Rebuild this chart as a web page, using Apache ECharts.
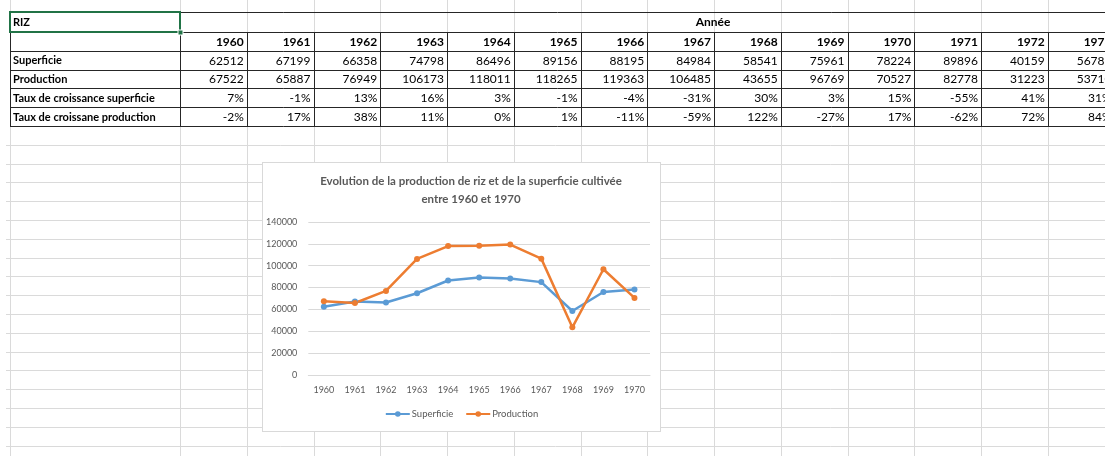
<!DOCTYPE html>
<html>
<head>
<meta charset="utf-8">
<script src="https://cdn.jsdelivr.net/npm/echarts@6/dist/echarts.min.js"></script>
<style>
  html, body { margin: 0; padding: 0; background: #fff; overflow: hidden; }
  #sheet { position: absolute; left: 0; top: 0; width: 1105px; height: 456px; }
  #chart { position: absolute; left: 262px; top: 162px; width: 399px; height: 270px;
           box-sizing: border-box; border: 1px solid #d9d9d9; background: #fff; }
</style>
</head>
<body>
<div id="sheet"></div>
<div id="chart"></div>
<script>
// table data (read from the sheet)
const years = ['1960', '1961', '1962', '1963', '1964', '1965', '1966', '1967', '1968', '1969', '1970', '1971', '1972', '1973']
const superficie = [62512, 67199, 66358, 74798, 86496, 89156, 88195, 84984, 58541, 75961, 78224, 89896, 40159, 56785]
const production = [67522, 65887, 76949, 106173, 118011, 118265, 119363, 106485, 43655, 96769, 70527, 82778, 31223, 53710]
const tauxSup = ['7%', '-1%', '13%', '16%', '3%', '-1%', '-4%', '-31%', '30%', '3%', '15%', '-55%', '41%', '31%']
const tauxProd = ['-2%', '17%', '38%', '11%', '0%', '1%', '-11%', '-59%', '122%', '-27%', '17%', '-62%', '72%', '84%']
const rowLabels = ['Superficie', 'Production', 'Taux de croissance superficie', 'Taux de croissane production']

// chart covers 1960..1970
const chartYears = years.slice(0, 11)
const chartSup = superficie.slice(0, 11)
const chartProd = production.slice(0, 11)

const FONT = "Lato, 'DejaVu Sans Condensed', sans-serif"
const W = 1105
const H = 456

// sheet layout
const x0 = 10
const x1 = 180
const colW = 66.75
const colEdges = [x0]
for (let i = 0; x1 + i * colW < W + colW; i++) colEdges.push(x1 + i * colW)
const rowEdges = [12, 32, 51, 69.5, 88.3, 107, 126]
const tableBottom = 126
const rowH = 18.8

function px (v) { return Math.round(v) + 0.5 }

const els = []
// light grid
colEdges.forEach(x => {
  els.push({ type: 'line', shape: { x1: px(x), y1: 0, x2: px(x), y2: H }, style: { stroke: '#dadada', lineWidth: 1 } })
})
for (let y = tableBottom + rowH; y < H; y += rowH) {
  els.push({ type: 'line', shape: { x1: 6, y1: px(y), x2: W, y2: px(y) }, style: { stroke: '#dadada', lineWidth: 1 } })
}
// table borders
rowEdges.forEach(y => {
  els.push({ type: 'line', shape: { x1: x0, y1: px(y), x2: W, y2: px(y) }, style: { stroke: '#262626', lineWidth: 1 } })
})
colEdges.forEach(x => {
  const top = (x === x0 || x === x1) ? rowEdges[0] : rowEdges[1]
  els.push({ type: 'line', shape: { x1: px(x), y1: px(top), x2: px(x), y2: px(tableBottom) }, style: { stroke: '#262626', lineWidth: 1 } })
})
// selected cell
els.push({ type: 'rect', shape: { x: x0, y: 12, width: x1 - x0, height: 20 }, style: { fill: null, stroke: '#217346', lineWidth: 2 } })
els.push({ type: 'rect', shape: { x: x1 - 2, y: 30, width: 5, height: 5 }, style: { fill: '#217346', stroke: '#fff', lineWidth: 1 } })

function txt (text, x, y, align, bold, size) {
  els.push({
    type: 'text',
    style: {
      text: text, x: x, y: y,
      font: (bold ? 'bold ' : '') + size + 'px ' + FONT,
      fill: '#000',
      align: align, verticalAlign: 'middle',
      textAlign: align, textVerticalAlign: 'middle'
    }
  })
}
function mid (r) { return (rowEdges[r] + rowEdges[r + 1]) / 2 + 0.5 }

txt('RIZ', 13, mid(0), 'left', true, 11)
txt('Année', 713, mid(0), 'center', true, 12)
rowLabels.forEach((l, r) => txt(l, 13, mid(r + 2), 'left', true, 11))
years.forEach((yv, i) => {
  const right = x1 + (i + 1) * colW - 3
  txt(yv, right, mid(1), 'right', true, 12)
  txt(String(superficie[i]), right, mid(2), 'right', false, 12)
  txt(String(production[i]), right, mid(3), 'right', false, 12)
  txt(tauxSup[i], right, mid(4), 'right', false, 12)
  txt(tauxProd[i], right, mid(5), 'right', false, 12)
})

const sheet = echarts.init(document.getElementById('sheet'))
sheet.setOption({ animation: false, graphic: { elements: els } })

const chart = echarts.init(document.getElementById('chart'))
chart.setOption({
  animation: false,
  title: {
    text: 'Evolution de la production de riz et de la superficie cultivée\nentre 1960 et 1970',
    left: 208,
    textAlign: 'center',
    top: 9,
    padding: 0,
    textStyle: { fontFamily: FONT, fontSize: 11.5, fontWeight: 'bold', color: '#595959', lineHeight: 18 }
  },
  legend: {
    data: ['Superficie', 'Production'],
    top: 241,
    left: 'center',
    itemWidth: 24,
    itemHeight: 7,
    itemGap: 12,
    textStyle: { fontFamily: FONT, fontSize: 9.5, color: '#595959', padding: [0, 0, 0, -3] }
  },
  grid: { left: 42, right: 10, top: 59, bottom: 56 },
  xAxis: {
    type: 'category',
    data: chartYears,
    axisLine: { lineStyle: { color: '#d9d9d9' } },
    axisTick: { show: false },
    axisLabel: { fontFamily: FONT, fontSize: 9, color: '#595959', margin: 11 }
  },
  yAxis: {
    type: 'value',
    min: 0,
    max: 140000,
    interval: 20000,
    axisLine: { show: false },
    axisTick: { show: false },
    axisLabel: { fontFamily: FONT, fontSize: 9, color: '#595959', margin: 11, formatter: v => String(v) },
    splitLine: { lineStyle: { color: '#d9d9d9' } }
  },
  series: [
    {
      name: 'Superficie',
      type: 'line',
      data: chartSup,
      symbol: 'circle',
      symbolSize: 6,
      color: '#5b9bd5',
      lineStyle: { width: 2.5, color: '#5b9bd5' }
    },
    {
      name: 'Production',
      type: 'line',
      data: chartProd,
      symbol: 'circle',
      symbolSize: 6,
      color: '#ed7d31',
      lineStyle: { width: 2.5, color: '#ed7d31' }
    }
  ]
})
</script>
</body>
</html>
